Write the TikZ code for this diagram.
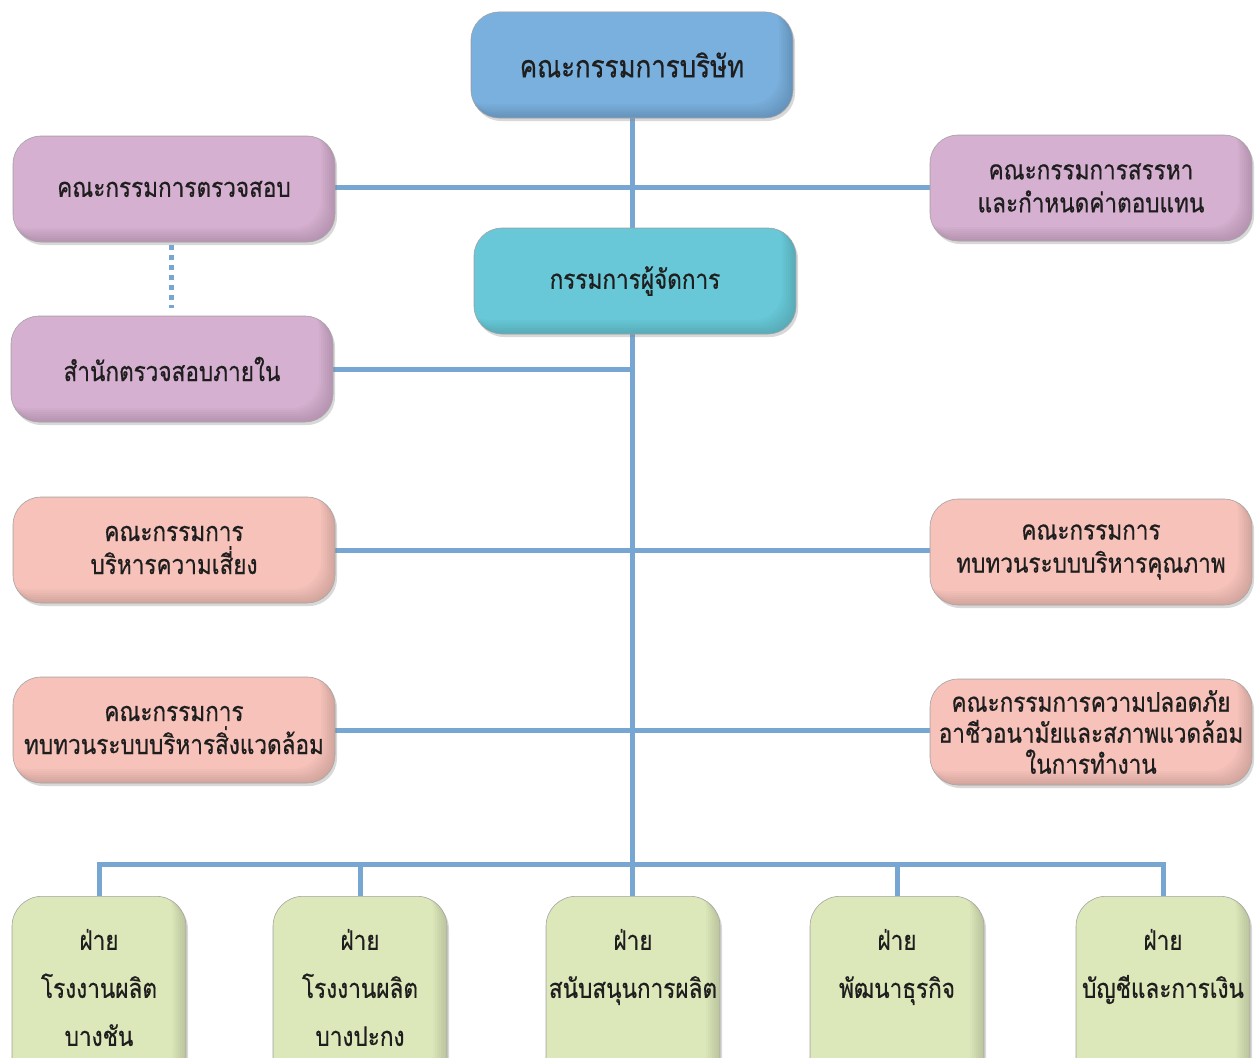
\documentclass[tikz,border=0pt]{standalone}
\usepackage{fontspec}
\setmainfont[Script=Thai,FakeStretch=0.835,FakeBold=0.6]{Loma}
\usetikzlibrary{shadows,backgrounds}
\definecolor{linec}{RGB}{120,166,210}
\definecolor{boardc}{RGB}{122,176,221}
\definecolor{mdc}{RGB}{104,200,216}
\definecolor{purc}{RGB}{214,176,208}
\definecolor{pinkc}{RGB}{246,194,186}
\definecolor{greenc}{RGB}{221,232,186}
\definecolor{txtc}{RGB}{30,30,30}
\tikzset{
  bevel/.style={path picture={
    \foreach \k in {2,4,...,14} {
      \fill[black,opacity=0.02,even odd rule,rounded corners=#1]
        (path picture bounding box.south west) rectangle (path picture bounding box.north east)
        ([xshift=-\k pt,yshift=\k pt]path picture bounding box.south west) rectangle ([xshift=-\k pt,yshift=\k pt]path picture bounding box.north east);
    }}},
  orgbox/.style={draw=black!35, line width=0.6pt, rounded corners=28pt, bevel=28pt,
    minimum width=322pt, minimum height=106pt, align=center, text=txtc,
    font=\fontsize{27}{33}\selectfont, inner sep=2pt,
    drop shadow={opacity=0.3, shadow xshift=2pt, shadow yshift=-3pt}},
  divbox/.style={draw=black!35, line width=0.6pt, rounded corners=30pt, bevel=30pt,
    minimum width=174pt, minimum height=200pt, anchor=north,
    drop shadow={opacity=0.3, shadow xshift=2pt, shadow yshift=-3pt}},
  divtext/.style={align=center, text=txtc, font=\fontsize{27}{48}\selectfont},
  conn/.style={draw=linec, line width=5pt},
  dotconn/.style={draw=linec, line width=5pt, dash pattern=on 5pt off 5pt},
}
\newcommand\divlines[3]{\strut #1\\\strut #2\\\strut #3}
\newcommand\dn[1]{\raisebox{-3pt}{\shortstack{#1}}}
\begin{document}
\begin{tikzpicture}[x=1pt,y=-1pt]
\useasboundingbox (0,0) rectangle (1255,1057);
\node[orgbox, fill=boardc, font=\fontsize{31}{33}\selectfont] (board) at (632,65) {คณะกรรมการบริษัท};
\node[orgbox, fill=mdc] (md) at (635,281) {กรรมการผู้จัดการ};
\node[orgbox, fill=purc] (audit) at (174,189) {คณะกรรมการตรวจสอบ};
\node[orgbox, fill=purc] (nom) at (1091,188) {คณะกรรมการสรรหา\\และกำหนดค่าตอบแทน};
\node[orgbox, fill=purc] (ia) at (172,369) {สำนักตรวจสอบภายใน};
\node[orgbox, fill=pinkc] (risk) at (174,550) {คณะกรรมการ\\บริหารความเสี่ยง};
\node[orgbox, fill=pinkc] (qual) at (1091,552) {คณะกรรมการ\\ทบทวนระบบบริหารคุณภาพ};
\node[orgbox, fill=pinkc] (env) at (174,730) {คณะกรรมการ\\ทบทวนระบบบริหารสิ่งแวดล้อม};
\node[orgbox, fill=pinkc, font=\fontsize{27}{31}\selectfont] (safe) at (1091,732) {คณะกรรมการความปลอดภัย\\อาชีวอนามัยและสภาพแวดล้อม\\ในการทำงาน};
\node[divbox, fill=greenc, label={[divtext, yshift=8pt]center:\divlines{ฝ่าย}{โรงงานผลิต}{บางชัน}}] (d1) at (99,896) {};
\node[divbox, fill=greenc, label={[divtext, yshift=8pt]center:\divlines{ฝ่าย}{โรงงานผลิต}{บางปะกง}}] (d2) at (360,896) {};
\node[divbox, fill=greenc, label={[divtext, yshift=8pt]center:\divlines{ฝ่าย}{สนับสนุนการผลิต}{}}] (d3) at (633,896) {};
\node[divbox, fill=greenc, label={[divtext, yshift=8pt]center:\divlines{ฝ่าย}{พัฒนาธุรกิจ}{}}] (d4) at (897,896) {};
\node[divbox, fill=greenc, label={[divtext, yshift=8pt]center:\divlines{ฝ่าย}{บัญชีและการเงิน}{}}] (d5) at (1163,896) {};
\coordinate (bus) at (631,864);
\begin{scope}[on background layer]
\fill[white] (0,0) rectangle (1255,1057);
\draw[conn] (board.south) -- (board.south |- md.north);
\draw[conn] (board.south |- md.south) -- (board.south |- d3.north);
\draw[conn] ([yshift=2pt]audit.east) -- ([yshift=2pt]audit.east -| nom.west);
\draw[conn] (ia.east) -- (ia.east -| board.south);
\draw[conn] (risk.east) -- (risk.east -| qual.west);
\draw[conn] (env.east) -- (env.east -| safe.west);
\draw[conn] (d1.north |- bus) -- (d5.north |- bus);
\foreach \d in {d1,d2,d4,d5} {
  \draw[conn] (\d.north) -- ([yshift=2.5pt]\d.north |- bus);
}
\draw[dotconn, shorten <=3pt, shorten >=8pt] ([xshift=-3pt]audit.south) -- ([xshift=-3pt]audit.south |- ia.north);
\end{scope}
\end{tikzpicture}
\end{document}
